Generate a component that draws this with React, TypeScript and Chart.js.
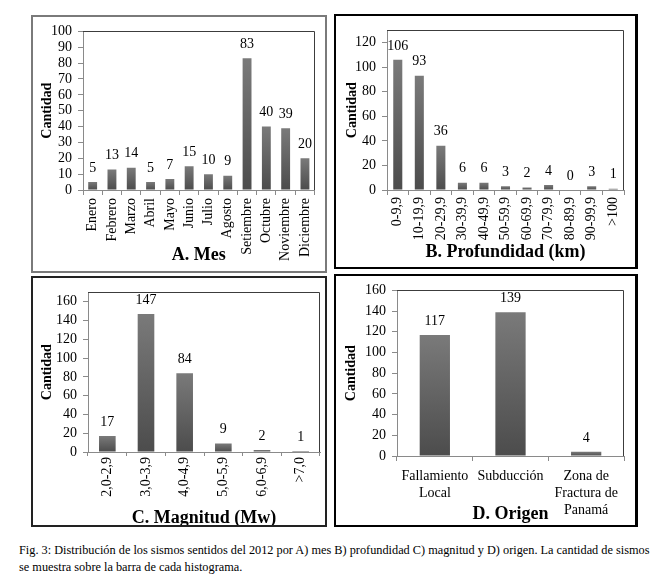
import React, { useEffect, useRef } from 'react';
import { Chart, registerables } from 'chart.js';
Chart.register(...registerables);

const monthLabels = ['Enero', 'Febrero', 'Marzo', 'Abril', 'Mayo', 'Junio', 'Julio', 'Agosto', 'Setiembre', 'Octubre', 'Noviembre', 'Diciembre'];
const monthCounts = [5, 13, 14, 5, 7, 15, 10, 9, 83, 40, 39, 20];
const depthLabels = ['0-9,9', '10-19,9', '20-29,9', '30-39,9', '40-49,9', '50-59,9', '60-69,9', '70-79,9', '80-89,9', '90-99,9', '>100'];
const depthCounts = [106, 93, 36, 6, 6, 3, 2, 4, 0, 3, 1];
const magLabels = ['2,0-2,9', '3,0-3,9', '4,0-4,9', '5,0-5,9', '6,0-6,9', '>7,0'];
const magCounts = [17, 147, 84, 9, 2, 1];
const originLabels = [['Fallamiento', 'Local'], ['Subducción'], ['Zona de', 'Fractura de', 'Panamá']];
const originCounts = [117, 139, 4];

const FONT = '"Liberation Serif", "Times New Roman", serif';
const AXIS = '#8a8a8a';

interface Cfg {
  left: number; top: number; width: number; height: number;
  border: string; bw: number; bwRight: number;
  labels: any[]; data: number[]; title: string;
  yMax: number; yStep: number; yTickMax: number; barPct: number;
  padL: number; yWidth: number; padT: number; padR: number; padB: number;
  xHeight: number; xTickPad: number; xTickLen: number; rotate: boolean; titlePadB: number;
}

const panels: Cfg[] = [
  {
    left: 31, top: 15, width: 296, height: 258, border: '#7a7a7a', bw: 2, bwRight: 2,
    labels: monthLabels, data: monthCounts, title: 'A. Mes',
    yMax: 100, yStep: 10, yTickMax: 100, barPct: 0.46,
    padL: 6, yWidth: 44, padT: 7, padR: 6, padB: 7, xHeight: 74, xTickPad: 3, xTickLen: 5, rotate: true, titlePadB: 0,
  },
  {
    left: 334, top: 14, width: 304, height: 255, border: '#000', bw: 2, bwRight: 3,
    labels: depthLabels, data: depthCounts, title: 'B. Profundidad (km)',
    yMax: 130, yStep: 20, yTickMax: 120, barPct: 0.42,
    padL: 8, yWidth: 43, padT: 8, padR: 11, padB: 6, xHeight: 71, xTickPad: 2, xTickLen: 5, rotate: true, titlePadB: 0,
  },
  {
    left: 31, top: 276, width: 296, height: 251, border: '#222', bw: 2, bwRight: 2,
    labels: magLabels, data: magCounts, title: 'C. Magnitud (Mw)',
    yMax: 170, yStep: 20, yTickMax: 160, barPct: 0.43,
    padL: 6, yWidth: 49, padT: 7, padR: 5, padB: 0, xHeight: 73, xTickPad: 1, xTickLen: 4, rotate: true, titlePadB: -2,
  },
  {
    left: 334, top: 274, width: 304, height: 253, border: '#000', bw: 2, bwRight: 3,
    labels: originLabels, data: originCounts, title: 'D. Origen',
    yMax: 160, yStep: 20, yTickMax: 160, barPct: 0.4,
    padL: 7, yWidth: 54, padT: 9, padR: 11, padB: 2, xHeight: 67, xTickPad: 7, xTickLen: 5, rotate: false, titlePadB: 0,
  },
];

const framePlugin = {
  id: 'plotFrame',
  afterDraw(chart: any) {
    const { ctx, chartArea: a } = chart;
    ctx.save();
    ctx.strokeStyle = '#3c3c3c';
    ctx.lineWidth = 1;
    ctx.beginPath();
    ctx.moveTo(a.left, Math.round(a.top) + 0.5);
    ctx.lineTo(Math.round(a.right) - 0.5, Math.round(a.top) + 0.5);
    ctx.lineTo(Math.round(a.right) - 0.5, a.bottom);
    ctx.stroke();
    ctx.restore();
  },
};

const valuePlugin = {
  id: 'valueLabels',
  afterDatasetsDraw(chart: any) {
    const { ctx } = chart;
    const meta = chart.getDatasetMeta(0);
    const vals = chart.data.datasets[0].data;
    ctx.save();
    ctx.font = `14px ${FONT}`;
    ctx.fillStyle = '#000';
    ctx.textAlign = 'center';
    ctx.textBaseline = 'middle';
    meta.data.forEach((el: any, i: number) => {
      ctx.fillText(String(vals[i]), el.x, el.y - 14);
    });
    ctx.restore();
  },
};

function Panel({ cfg }: { cfg: Cfg }) {
  const ref = useRef<HTMLCanvasElement>(null);
  const cw = cfg.width - cfg.bw - cfg.bwRight;
  const ch = cfg.height - cfg.bw * 2;
  useEffect(() => {
    if (!ref.current) return;
    const chart = new Chart(ref.current, {
      type: 'bar',
      data: {
        labels: cfg.labels,
        datasets: [
          {
            data: cfg.data,
            backgroundColor: (c: any) => {
              const chart = c.chart;
              const y = chart.scales?.y;
              if (!y || c.raw === undefined) return '#606060';
              const top = y.getPixelForValue(c.raw);
              const bottom = y.getPixelForValue(0);
              if (!isFinite(top) || !isFinite(bottom) || bottom - top < 1) return '#5a5a5a';
              const g = chart.ctx.createLinearGradient(0, top, 0, bottom);
              g.addColorStop(0, '#7a7a7a');
              g.addColorStop(1, '#4c4c4c');
              return g;
            },
            borderWidth: 0,
            barPercentage: cfg.barPct,
            categoryPercentage: 1,
          },
        ],
      },
      options: {
        responsive: false,
        animation: false,
        layout: { padding: { left: cfg.padL, right: cfg.padR, top: cfg.padT, bottom: cfg.padB } },
        plugins: { legend: { display: false }, tooltip: { enabled: false } },
        scales: {
          x: {
            grid: { display: true, drawOnChartArea: false, drawTicks: true, tickLength: cfg.xTickLen, color: AXIS, offset: true },
            border: { display: true, color: AXIS, width: 1 },
            ticks: {
              color: '#000',
              font: { family: FONT, size: 14 },
              autoSkip: false,
              maxRotation: cfg.rotate ? 90 : 0,
              minRotation: cfg.rotate ? 90 : 0,
              padding: cfg.xTickPad,
            },
            title: {
              display: true,
              text: cfg.title,
              color: '#000',
              font: { family: FONT, size: 18, weight: 'bold', lineHeight: 1 },
              padding: { top: 0, bottom: cfg.titlePadB },
            },
            afterFit: (s: any) => { s.height = cfg.xHeight; },
          },
          y: {
            min: 0,
            max: cfg.yMax,
            grid: { drawOnChartArea: false, drawTicks: true, tickLength: 5, color: AXIS },
            border: { display: true, color: AXIS, width: 1 },
            ticks: {
              stepSize: cfg.yStep,
              autoSkip: false,
              includeBounds: false,
              color: '#000',
              font: { family: FONT, size: 14 },
              padding: 6,
            },
            afterBuildTicks: (s: any) => { s.ticks = s.ticks.filter((t: any) => t.value <= cfg.yTickMax); },
            title: {
              display: true,
              text: 'Cantidad',
              color: '#000',
              font: { family: FONT, size: 14, weight: 'bold', lineHeight: 1.2 },
              padding: 0,
            },
            afterFit: (s: any) => { s.width = cfg.yWidth; },
          },
        },
      } as any,
      plugins: [framePlugin, valuePlugin],
    });
    return () => chart.destroy();
  }, []);
  return (
    <div
      style={{
        position: 'absolute',
        left: cfg.left,
        top: cfg.top,
        width: cfg.width,
        height: cfg.height,
        boxSizing: 'border-box',
        borderStyle: 'solid',
        borderColor: cfg.border,
        borderWidth: `${cfg.bw}px ${cfg.bwRight}px ${cfg.bw}px ${cfg.bw}px`,
        background: '#fff',
      }}
    >
      <canvas ref={ref} width={cw} height={ch} style={{ display: 'block', width: cw, height: ch }} />
    </div>
  );
}

export default function App() {
  return (
    <div style={{ position: 'absolute', left: 0, top: 0, width: 668, height: 579, background: '#fff', overflow: 'hidden' }}>
      {panels.map((p, i) => (
        <Panel key={i} cfg={p} />
      ))}
      <div
        style={{
          position: 'absolute',
          left: 19,
          top: 542,
          fontFamily: FONT,
          fontSize: 12.3,
          lineHeight: '17px',
          whiteSpace: 'nowrap',
          color: '#000',
        }}
      >
        Fig. 3: Distribución de los sismos sentidos del 2012 por A) mes B) profundidad C) magnitud y D) origen. La cantidad de sismos
        <br />
        se muestra sobre la barra de cada histograma.
      </div>
    </div>
  );
}
